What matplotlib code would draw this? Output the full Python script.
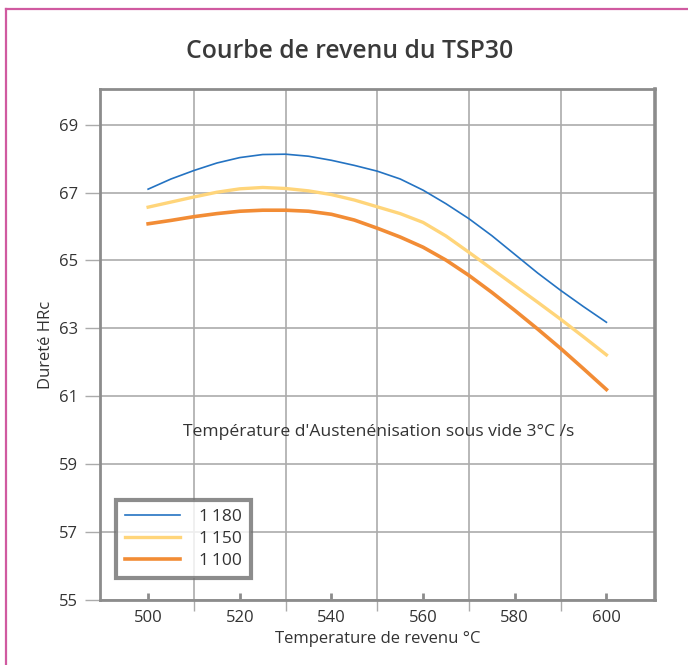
import matplotlib.pyplot as plt
from matplotlib.lines import Line2D

plt.rcParams['font.family'] = ['Open Sans', 'DejaVu Sans']

# Data (every 5 °C)
temperature = [500, 505, 510, 515, 520, 525, 530, 535, 540, 545, 550,
               555, 560, 565, 570, 575, 580, 585, 590, 595, 600]
hrc_1180 = [67.1, 67.4, 67.65, 67.87, 68.03, 68.12, 68.13, 68.07, 67.95, 67.8, 67.63,
            67.4, 67.07, 66.67, 66.23, 65.73, 65.18, 64.63, 64.12, 63.64, 63.18]
hrc_1150 = [66.57, 66.72, 66.87, 67.01, 67.11, 67.15, 67.12, 67.05, 66.94, 66.78, 66.58,
            66.38, 66.12, 65.72, 65.24, 64.75, 64.26, 63.77, 63.27, 62.75, 62.22]
hrc_1100 = [66.08, 66.18, 66.29, 66.38, 66.45, 66.48, 66.48, 66.45, 66.36, 66.19, 65.95,
            65.69, 65.39, 65.01, 64.56, 64.06, 63.53, 62.98, 62.41, 61.81, 61.2]

x_ticks = [500, 520, 540, 560, 580, 600]
x_grid = [510, 530, 550, 570, 590]
y_ticks = [55, 57, 59, 61, 63, 65, 67, 69]

text_color = '#333333'
frame_color = '#8c8c8c'
grid_color = '#ababab'

fig = plt.figure(figsize=(6.88, 6.65), dpi=100)
ax = fig.add_axes([100 / 688, 65 / 665, 555 / 688, 511 / 665])

ax.plot(temperature, hrc_1100, color='#F28C35', lw=2.6, label='1\u2009100', zorder=3)
ax.plot(temperature, hrc_1150, color='#FFD57A', lw=2.4, label='1\u2009150', zorder=3)
ax.plot(temperature, hrc_1180, color='#2473C2', lw=1.2, label='1\u2009180', zorder=4)

ax.set_xlim(489.5, 610.6)
ax.set_ylim(55, 70.05)

ax.set_xticks(x_ticks)
ax.set_xticks(x_grid, minor=True)
ax.set_yticks(y_ticks)

ax.tick_params(axis='x', which='major', direction='in', length=5, width=2,
               color=frame_color, labelsize=12, labelcolor=text_color, pad=7)
ax.tick_params(axis='x', which='minor', direction='out', length=8, width=1,
               color=grid_color)
ax.tick_params(axis='y', direction='out', length=11, width=1, color=grid_color,
               labelsize=12, labelcolor=text_color, pad=5)

ax.grid(True, axis='x', which='minor', color=grid_color, lw=1.2)
ax.grid(True, axis='y', which='major', color=grid_color, lw=1.2)
ax.set_axisbelow(True)

for side in ['left', 'bottom', 'top']:
    ax.spines[side].set_color(frame_color)
    ax.spines[side].set_linewidth(2)
ax.spines['right'].set_color(frame_color)
ax.spines['right'].set_linewidth(2.6)

ax.set_xlabel('Temperature de revenu °C', fontsize=12, color=text_color, labelpad=4)
ax.set_ylabel('Dureté HRc', fontsize=12, color=text_color)
ax.yaxis.set_label_coords(-0.082, 0.5)

ax.text(550.2, 59.95, "Température d'Austenénisation sous vide 3°C /s",
        ha='center', va='center', fontsize=12.6, color=text_color)

fig.text(350 / 688, 1 - 51 / 665, 'Courbe de revenu du TSP30', ha='center',
         va='center', fontsize=17.8, fontweight='semibold', color='#3a3a3a')

# legend in the order shown in the picture
handles, labels = ax.get_legend_handles_labels()
order = [2, 1, 0]
leg = ax.legend([handles[i] for i in order], [labels[i] for i in order],
                loc='lower left', bbox_to_anchor=(16 / 555, 22 / 511),
                prop={'size': 12.5}, frameon=True, fancybox=False,
                handlelength=3.2, handletextpad=1.1, borderpad=0.5,
                labelspacing=0.35, borderaxespad=0)
leg.get_frame().set_edgecolor('#707070')
leg.get_frame().set_linewidth(3)
for t in leg.get_texts():
    t.set_color(text_color)

# pink page border (top and left edges)
pink = '#D05AA0'
fig.add_artist(Line2D([6 / 688, 1.0], [1 - 9 / 665, 1 - 9 / 665],
                      transform=fig.transFigure, color=pink, lw=1.6))
fig.add_artist(Line2D([6 / 688, 6 / 688], [0.0, 1 - 9 / 665],
                      transform=fig.transFigure, color=pink, lw=1.6))

fig.savefig('out.png', dpi=100)
